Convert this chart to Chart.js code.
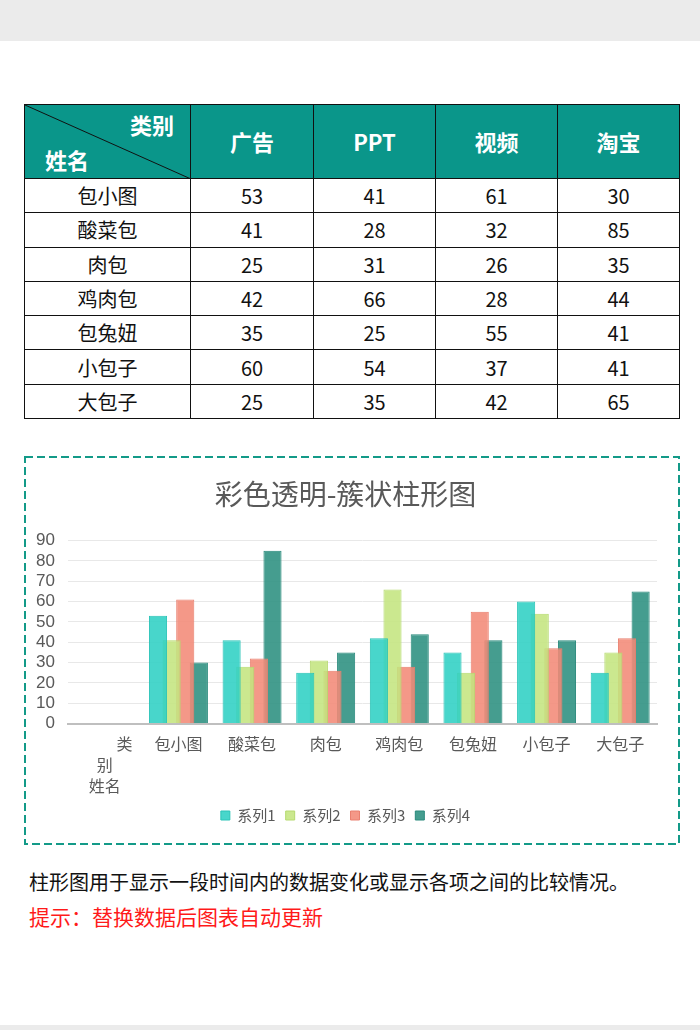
<!DOCTYPE html>
<html>
<head>
<meta charset="utf-8">
<script src="https://cdn.jsdelivr.net/npm/chart.js@4/dist/chart.umd.min.js"></script>
<style>
  body { margin: 0; width: 700px; height: 1030px; position: relative; background: #fff;
         font-family: "Noto Sans CJK SC", "Noto Sans", sans-serif; overflow: hidden; }
  .band-top { position: absolute; left: 0; top: 0; width: 700px; height: 41px; background: #ebebeb; }
  .band-bot { position: absolute; left: 0; top: 1025px; width: 700px; height: 5px; background: #ebebeb; }
  table { position: absolute; left: 24px; top: 104px; border-collapse: collapse; table-layout: fixed; }
  td { border: 1px solid #111; text-align: center; font-size: 20px; color: #111; height: 33.3px; padding: 0; line-height: 33px; }
  tr.head td { background: #0a968a; color: #fff; font-weight: bold; font-size: 22px; height: 73px; }
  td.corner { position: relative; }
  td.corner svg { position: absolute; left: 0; top: 0; }
  td.corner .c1 { position: absolute; right: 16px; top: 4px; line-height: 30px; }
  td.corner .c2 { position: absolute; left: 20px; bottom: 4px; line-height: 30px; }
  .box { position: absolute; left: 24px; top: 456px; width: 656px; height: 389px; }
  .box svg { position: absolute; left: 0; top: 0; }
  .box canvas { position: absolute; left: 2px; top: 2px; }
  .note { position: absolute; left: 29px; top: 868px; font-size: 20px; color: #111; line-height: 28px; }
  .tip { position: absolute; left: 29px; top: 902px; font-size: 21px; color: #ff1a1a; line-height: 28px; }
</style>
</head>
<body>
<div class="band-top"></div>
<div class="band-bot"></div>
<table id="tbl"></table>
<div class="box">
  <svg width="656" height="389"><rect x="1" y="1" width="654" height="387" fill="none" stroke="#139a88" stroke-width="2" stroke-dasharray="8 4"/></svg>
  <canvas id="c" width="652" height="385"></canvas>
</div>
<div class="note">柱形图用于显示一段时间内的数据变化或显示各项之间的比较情况。</div>
<div class="tip">提示：替换数据后图表自动更新</div>
<script>
// Data
const names = ['包小图', '酸菜包', '肉包', '鸡肉包', '包兔妞', '小包子', '大包子'];
const types = ['广告', 'PPT', '视频', '淘宝'];
const adVals = [53, 41, 25, 42, 35, 60, 25];
const pptVals = [41, 28, 31, 66, 25, 54, 35];
const videoVals = [61, 32, 26, 28, 55, 37, 42];
const taobaoVals = [30, 85, 35, 44, 41, 41, 65];
const seriesNames = ['系列1', '系列2', '系列3', '系列4'];
const firstLabel = ['           类', '别', '姓名'];
const yTicks = [0, 10, 20, 30, 40, 50, 60, 70, 80, 90];

const allVals = [adVals, pptVals, videoVals, taobaoVals];
const colors = ['rgba(47,208,196,0.88)', 'rgba(196,229,128,0.88)', 'rgba(243,138,120,0.88)', 'rgba(43,143,128,0.88)'];
const edges = ['#2cc4b8', '#b6da70', '#e98070', '#2a8a7c'];

// --- TABLE ---
function buildTable() {
    const tbl = document.getElementById('tbl');
    const widths = [166, 123, 122, 122, 122];
    let html = '<colgroup>' + widths.map(w => `<col style="width:${w}px">`).join('') + '</colgroup>';
    html += '<tr class="head"><td class="corner"><svg width="166" height="74"><line x1="0" y1="0" x2="166" y2="74" stroke="#111" stroke-width="1"/></svg>'
         + '<span class="c1">类别</span><span class="c2">姓名</span></td>'
         + types.map(t => `<td>${t}</td>`).join('') + '</tr>';
    names.forEach((n, i) => {
        html += `<tr><td>${n}</td>` + allVals.map(v => `<td>${v[i]}</td>`).join('') + '</tr>';
    });
    tbl.innerHTML = html;
}

// --- CHART ---
function initChart() {
    const ctx = document.getElementById('c').getContext('2d');
    new Chart(ctx, {
        type: 'bar',
        data: {
            labels: [firstLabel, ...names],
            datasets: allVals.map((v, k) => ({
                label: seriesNames[k],
                data: [null, ...v],
                backgroundColor: colors[k],
                borderColor: edges[k],
                borderWidth: 1,
                categoryPercentage: 0.74,
                barPercentage: 1.33
            }))
        },
        options: {
            responsive: false,
            animation: false,
            layout: { padding: { left: 8, right: 21, top: 8, bottom: 10 } },
            plugins: {
                title: { display: true, text: '彩色透明-簇状柱形图', color: '#595959',
                         font: { size: 28, family: '"Noto Sans CJK SC"', weight: 'normal' },
                         padding: { top: 12, bottom: 29 } },
                legend: { position: 'bottom',
                          labels: { boxWidth: 9, boxHeight: 9, color: '#595959', padding: 10,
                                    font: { size: 15, family: '"Noto Sans CJK SC"' } } },
                tooltip: { enabled: false }
            },
            scales: {
                x: {
                    grid: { display: false },
                    border: { color: '#bfbfbf', width: 2 },
                    ticks: { color: '#595959', maxRotation: 0, autoSkip: false, padding: 2,
                             font: { size: 16, family: '"Noto Sans CJK SC"', lineHeight: 1.3 } }
                },
                y: {
                    min: 0, max: 90,
                    afterBuildTicks: axis => { axis.ticks = yTicks.map(v => ({ value: v })); },
                    afterFit: axis => { axis.width = 34; },
                    grid: { color: '#e8e8e8', drawTicks: false },
                    border: { display: false },
                    ticks: { color: '#595959', padding: 13, autoSkip: false,
                             font: { size: 17, family: '"Liberation Sans", sans-serif' } }
                }
            }
        }
    });
}

window.addEventListener('DOMContentLoaded', () => { buildTable(); initChart(); });
</script>
</body>
</html>
